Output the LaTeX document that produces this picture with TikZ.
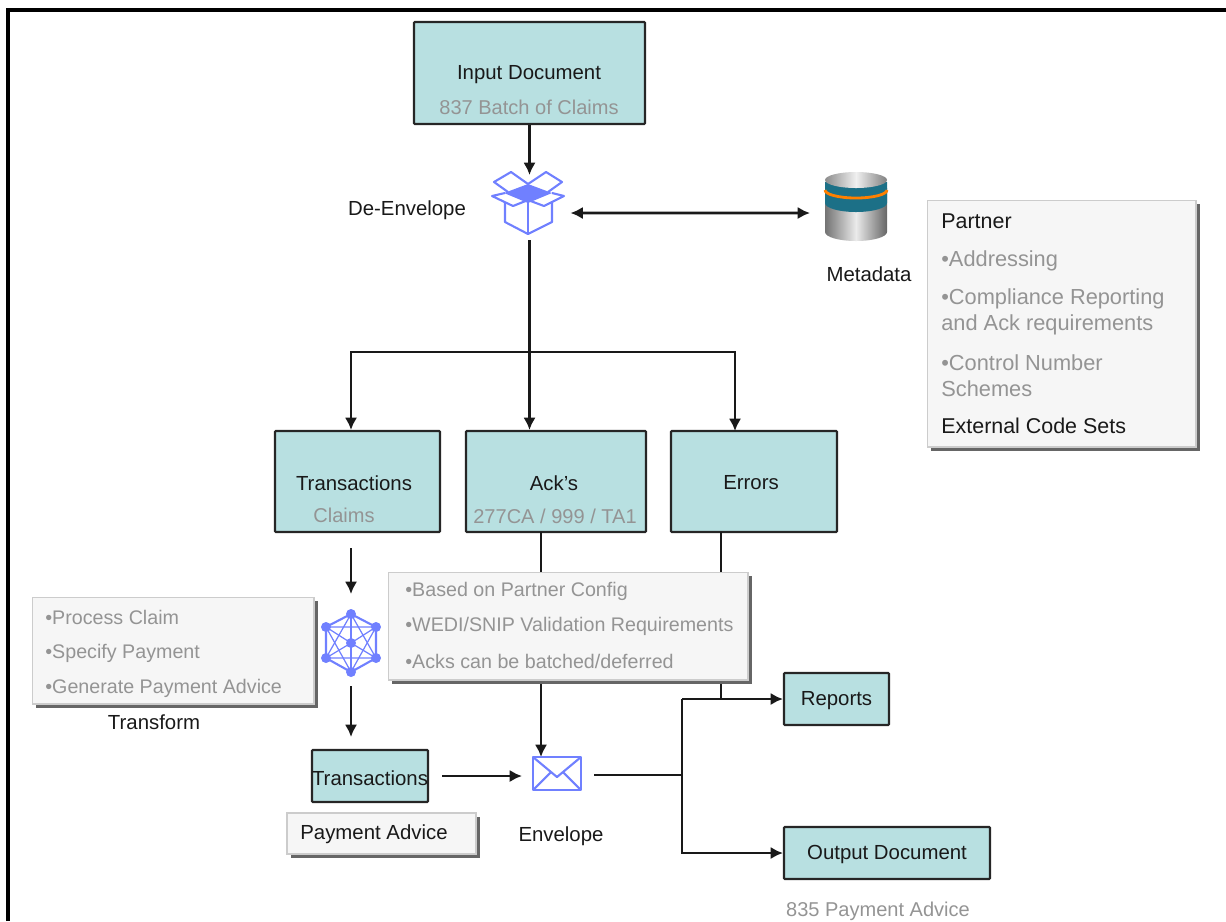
\documentclass[tikz,border=0pt]{standalone}
\usepackage{fontspec}
\setmainfont{Liberation Sans}
\usetikzlibrary{shadows,arrows.meta}
\definecolor{boxteal}{RGB}{184,224,225}
\definecolor{notefill}{RGB}{246,246,246}
\definecolor{icon}{RGB}{112,128,255}
\definecolor{drumband}{RGB}{28,112,135}
\tikzset{
	>={Latex[length=7pt,width=7pt]},
	flowbox/.style={draw=black!85, line width=1.2pt, fill=boxteal, inner sep=0pt, rounded corners=0.5pt},
	notebox/.style={draw=black!20, line width=0.6pt, fill=notefill, inner sep=0pt, drop shadow={shadow xshift=0.08cm, shadow yshift=-0.08cm, fill=black!60, opacity=1}},
	title/.style={font=\fontsize{11.6}{13}\selectfont, text=black!90, inner sep=0pt, yshift=-0.04cm},
	sub/.style={font=\fontsize{11.4}{13}\selectfont, text=black!42, inner sep=0pt, yshift=-0.04cm},
	notehead/.style={font=\fontsize{12.2}{13}\selectfont, text=black!90, inner sep=0pt, anchor=west, yshift=-0.04cm},
	notetext/.style={font=\fontsize{12.4}{13}\selectfont, text=black!42, inner sep=0pt, anchor=west, yshift=-0.04cm},
	smalltext/.style={font=\fontsize{11.2}{13}\selectfont, text=black!42, inner sep=0pt, anchor=west, yshift=-0.04cm},
	link/.style={line width=1.45pt, black!90},
	iconline/.style={draw=icon, line width=1.2pt, line join=round},
	hole/.style={inner sep=0pt, outer sep=0pt}
}
\begin{document}
\begin{tikzpicture}[x=0.02cm, y=-0.02cm]
	\useasboundingbox (0,0) rectangle (1226,921);
	\draw[line width=2.4pt, black] (8,921) -- (8,10) -- (1226,10);

	% main boxes
	\node[flowbox, minimum width=4.62cm, minimum height=2.04cm] (input) at (529.5,73) {};
	\node[flowbox, minimum width=3.3cm, minimum height=2.02cm] (trans) at (357.5,481.5) {};
	\node[flowbox, minimum width=3.6cm, minimum height=2.02cm] (acks) at (556,481.5) {};
	\node[flowbox, minimum width=3.32cm, minimum height=2.02cm] (errors) at (754,481.5) {};
	\node[flowbox, minimum width=2.32cm, minimum height=1.04cm] (claims) at (370,776) {};
	\node[flowbox, minimum width=2.1cm, minimum height=1.04cm] (reports) at (836.5,699) {};
	\node[flowbox, minimum width=4.12cm, minimum height=1.04cm] (output) at (887,853) {};

	% icons are only placeholders for the arrows
	\node[hole, minimum width=1.64cm, minimum height=1.3cm] (box) at (529.5,207.5) {};
	\node[hole, minimum width=1.6cm, minimum height=1.4cm] (db) at (850,207) {};
	\node[hole, minimum width=1.2cm, minimum height=1.84cm] (net) at (351,640) {};
	\node[hole, minimum width=1.44cm, minimum height=0.66cm] (env) at (558,773.5) {};

	\coordinate (split) at (box.south |- 0,352);
	\coordinate (fork) at (682,775);
	\coordinate (ackout) at (541,532);
	\coordinate (errout) at (721,532);
	\coordinate (errjoin) at (721,699);

	\draw[->, link] (input.south -| box) -- (box.north);
	\draw[<->, link] ([yshift=-0.11cm]box.east) -- ([yshift=-0.12cm]db.west);
	\draw[link] (box.south) -- (split);
	\draw[->, link] (split) -| (net.north |- trans.north);
	\draw[->, link] (split) -- (split |- acks.north);
	\draw[->, link] (split) -| (735,431);
	\draw[->, link, shorten <=0.3cm] (trans.south -| net) -- (net.north);
	\draw[->, link] (net.south) -- (net.south |- 0,737);
	\draw[->, link] (ackout) -- (ackout |- env.north);
	\draw[link] (errout) -- (errjoin);
	\draw[->, link, shorten <=0.26cm] (claims.east) -- (claims.east -| env.west);
	\draw[link] (env.east |- fork) -- (fork);
	\draw[->, link] (reports.west -| fork) -- (reports.west);
	\draw[->, link] (fork) |- (output.west);
	\draw[link] (reports.west -| fork) -- (fork);

	% notes sit on top of the lines
	\node[notebox, minimum width=5.38cm, minimum height=4.94cm] (partner) at (1061.5,323.5) {};
	\node[notebox, minimum width=5.64cm, minimum height=2.14cm] (steps) at (173,650.5) {};
	\node[notebox, minimum width=7.2cm, minimum height=2.16cm] (rules) at (568,626) {};
	\node[notebox, minimum width=3.78cm, minimum height=0.82cm] (advice) at (381.5,833.5) {};

	% box texts
	\node[title] (inputname) at (529,73) {Input Document};
	\node[sub] (inputsub) at (529,105) {837 Batch of Claims};
	\node[title] (transname) at (354,481) {Transactions};
	\node[sub] (transsub) at (344,513) {Claims};
	\node[title] (ackname) at (554,481) {Ack's};
	\node[sub] (acksub) at (555,514) {277CA / 999 / TA1};
	\node[title] (errname) at (751,481) {Errors};
	\node[title] (claimsname) at (claims) {Transactions};
	\node[title] (reportsname) at (reports) {Reports};
	\node[title] (outputname) at (887,852) {Output Document};
	\node[sub] (outputsub) at (878,909) {835 Payment Advice};

	% free labels
	\node[title] (boxname) at (407,208) {De-Envelope};
	\node[title] (dbname) at (869,272) {Metadata};
	\node[title] (netname) at (154,720) {Transform};
	\node[title] (envname) at (561,834) {Envelope};
	\node[title] (advicename) at (374,832) {Payment Advice};

	% note texts
	\node[notehead] (p1) at (941,219) {Partner};
	\node[notetext] (p2) at (941,259) {•Addressing};
	\node[notetext] (p3) at (941,297) {•Compliance Reporting};
	\node[notetext] (p4) at (941,323) {and Ack requirements};
	\node[notetext] (p5) at (941,361) {•Control Number};
	\node[notetext] (p6) at (941,387) {Schemes};
	\node[notehead] (p7) at (941,424) {External Code Sets};
	\node[smalltext] (s1) at (45,615) {•Process Claim};
	\node[smalltext] (s2) at (45,651) {•Specify Payment};
	\node[smalltext] (s3) at (45,686) {•Generate Payment Advice};
	\node[smalltext] (r1) at (405,589) {•Based on Partner Config};
	\node[smalltext] (r2) at (405,624) {•WEDI/SNIP Validation Requirements};
	\node[smalltext] (r3) at (405,659) {•Acks can be batched/deferred};

	% open box icon
	\fill[icon] (528,184) -- (552,193) -- (528,203) -- (504,193) -- cycle;
	\draw[iconline] (528,184) -- (511,172) -- (494,182) -- (508,192);
	\draw[iconline] (528,184) -- (546,172) -- (562,182) -- (548,192);
	\draw[iconline] (505,193) -- (492,196) -- (513,206) -- (528,200) -- (544,206) -- (564,196) -- (552,193);
	\draw[iconline] (505,202) -- (505,222) -- (528,234) -- (552,222) -- (552,202);
	\draw[iconline] (528,200) -- (528,234);

	% metadata drum
	\shade[left color=black!55, right color=black!60, middle color=black!8] (825,188) -- (825,232) arc[start angle=180, end angle=360, x radius=31, y radius=-9] -- (887,188) -- cycle;
	\fill[drumband] (825,182) -- (825,203) arc[start angle=180, end angle=360, x radius=31, y radius=-9] -- (887,182) -- cycle;
	\draw[orange, line width=1.6pt] (825,190) arc[start angle=180, end angle=360, x radius=31, y radius=-8];
	\shade[left color=black!45, right color=black!50, middle color=black!6] (856,180) ellipse[x radius=31, y radius=8];

	% network icon
	\foreach \a/\b in {351/614, 376/627, 376/658, 351/672, 326/658, 326/627}{
		\fill[icon] (\a,\b) circle[radius=5];
		\draw[iconline, line width=0.7pt] (\a,\b) -- (351,643);
	}
	\fill[icon] (351,643) circle[radius=5];
	\draw[iconline] (351,614) -- (376,627) -- (376,658) -- (351,672) -- (326,658) -- (326,627) -- cycle;
	\draw[iconline, line width=0.7pt] (351,614) -- (376,658) -- (326,658) -- cycle;
	\draw[iconline, line width=0.7pt] (351,672) -- (376,627) -- (326,627) -- cycle;

	% envelope icon
	\draw[iconline, line width=1.6pt] (533,757) rectangle (581,790);
	\draw[iconline] (533,757) -- (557,777) -- (581,757);
	\draw[iconline] (533,790) -- (551,772) (581,790) -- (563,772);
\end{tikzpicture}
\end{document}
